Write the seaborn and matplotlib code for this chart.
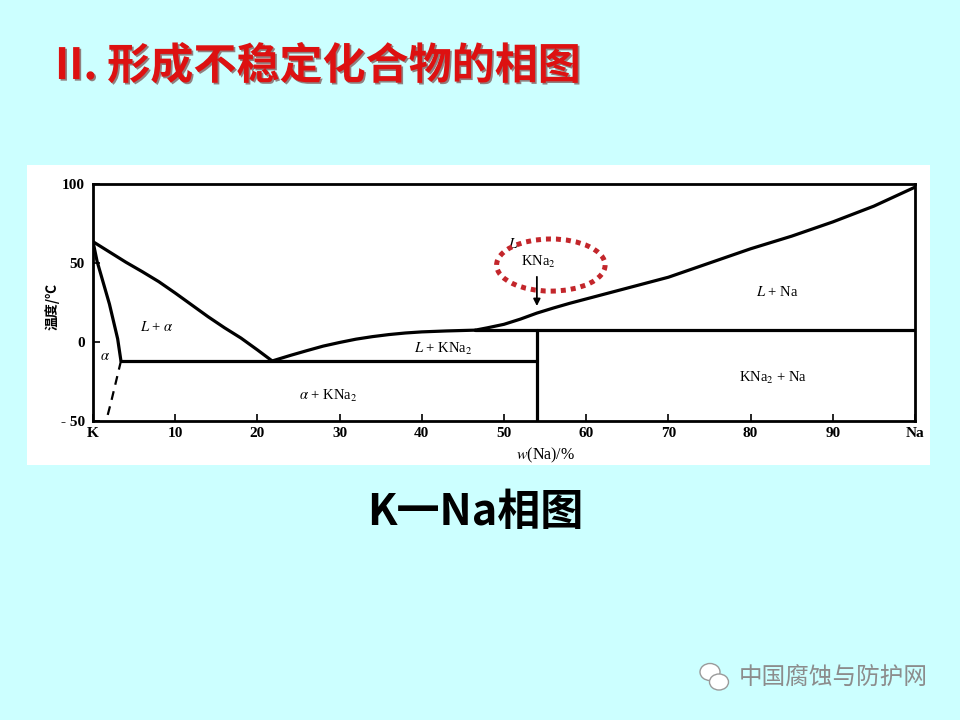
import matplotlib
matplotlib.use("Agg")
import matplotlib.pyplot as plt
import matplotlib.patheffects as pe
from matplotlib.patches import Ellipse, Rectangle
import seaborn as sns

# --- data (w(Na) in %, T in degC) ---
liq_alpha_x = [0, 2, 4, 6, 8, 10, 12, 14, 16, 18, 20, 21.8]
liq_alpha_t = [63.5, 57, 50.5, 44.5, 38.2, 31, 23.5, 16, 9, 2.5, -5, -12]

sol_alpha_x = [0, 0.5, 1.0, 1.5, 2.0, 2.5, 3.0, 3.4]
sol_alpha_t = [63.5, 51, 42, 33, 24, 13, 2, -12]

solvus_x = [3.4, 2.8, 2.2, 1.6]
solvus_t = [-12, -25, -38, -50]

eutectic_x = [3.4, 54]
eutectic_t = [-12, -12]

liq_kna2_x = [21.8, 24, 26, 28, 30, 32, 34, 36, 38, 40, 43, 46.5]
liq_kna2_t = [-12, -8.5, -5.5, -2.6, -0.3, 1.8, 3.4, 4.7, 5.7, 6.4, 7.0, 7.5]

peritectic_x = [46.5, 100]
peritectic_t = [7.5, 7.5]

kna2_x = [54, 54]
kna2_t = [7.5, -50]

liq_na_x = [46.5, 48, 50, 52, 54, 56, 58, 62, 66, 70, 75, 80, 85, 90, 95, 100]
liq_na_t = [7.5, 9, 11.2, 14.5, 18.3, 21.5, 24.5, 30, 35.5, 41, 50, 59, 67, 76, 86, 98]

x_ticks = [0, 10, 20, 30, 40, 50, 60, 70, 80, 90, 100]
x_labels = ["K", "10", "20", "30", "40", "50", "60", "70", "80", "90", "Na"]
y_ticks = [-50, 0, 50, 100]
y_labels = ["- 50", "0", "50", "100"]

region_labels = ["$L$ + $\\alpha$", "$\\alpha$", "$\\alpha$ + KNa$_2$", "$L$ + KNa$_2$",
                 "$L$ + Na", "KNa$_2$ + Na", "$L$", "KNa$_2$"]
region_x = [7.8, 1.5, 28.6, 42.6, 83.3, 82.7, 51.1, 54.2]
region_t = [9.5, -9, -34, -4.5, 31.5, -23, 62, 50.5]

sns.set_theme(style="white")
plt.rcParams['font.family'] = ['Noto Sans CJK SC', 'DejaVu Sans']
plt.rcParams['mathtext.fontset'] = 'stix'
serif = ['Liberation Serif', 'Noto Sans CJK SC']

bg = '#ccffff'
fig = plt.figure(figsize=(9.6, 7.2), dpi=100, facecolor=bg)

# white panel behind the diagram
fig.add_artist(Rectangle((27 / 960, 1 - 465 / 720), 903 / 960, 300 / 720,
                         transform=fig.transFigure, facecolor='white',
                         edgecolor='none', zorder=-1))

ax = fig.add_axes([93 / 960, 1 - 421 / 720, 822 / 960, 237 / 720])
ax.set_facecolor('white')

curves = [(liq_alpha_x, liq_alpha_t), (sol_alpha_x, sol_alpha_t),
          (eutectic_x, eutectic_t), (liq_kna2_x, liq_kna2_t),
          (peritectic_x, peritectic_t), (kna2_x, kna2_t), (liq_na_x, liq_na_t)]
for cx, ct in curves:
    sns.lineplot(x=cx, y=ct, ax=ax, color='black', lw=2.3,
                 estimator=None, sort=False)
sns.lineplot(x=solvus_x, y=solvus_t, ax=ax, color='black', lw=1.6,
             estimator=None, sort=False, linestyle=(0, (4, 3)))

ax.set_xlim(0, 100)
ax.set_ylim(-50, 100)
for s in ax.spines.values():
    s.set_color('black')
    s.set_linewidth(2)
ax.set_xticks(x_ticks)
ax.set_xticklabels(x_labels)
ax.set_yticks(y_ticks)
ax.set_yticklabels(y_labels)
ax.tick_params(direction='in', length=5, width=1.2, colors='black',
               labelsize=11, bottom=True, left=True)
ax.tick_params(axis='x', pad=4)
ax.tick_params(axis='y', pad=6)
for lab in ax.get_xticklabels() + ax.get_yticklabels():
    lab.set_family(serif)
    lab.set_fontweight('bold')
ax.set_xlabel("")
ax.set_ylabel("")

for txt, tx, tt in zip(region_labels, region_x, region_t):
    ax.text(tx, tt, txt, ha='center', va='center', fontsize=10.5,
            family=serif, color='black')

# arrow pointing to the incongruent melting point of KNa2
ax.annotate("", xy=(54, 21), xytext=(54, 43),
            arrowprops=dict(arrowstyle='-|>', color='black', lw=1.3,
                            mutation_scale=10))

# red dotted highlight
ax.add_patch(Ellipse((55.7, 48.7), 13.2, 33, fill=False, edgecolor='#c3262b',
                     lw=3.6, linestyle=(0, (1, 1)), zorder=5))

ax.text(0.55, -0.145, "$w$(Na)/%", transform=ax.transAxes, ha='center',
        va='center', fontsize=11.5, family=serif, color='black')
fig.text(52 / 960, 1 - 307 / 720, "温度/℃", rotation=90, ha='center',
         va='center', fontsize=10, fontweight='bold', color='black')

# slide title, caption and watermark
fig.text(55 / 960, 1 - 66 / 720, "II. 形成不稳定化合物的相图", ha='left',
         va='center', fontsize=31, fontweight='bold', color='#dd1111',
         path_effects=[pe.withSimplePatchShadow(offset=(1.2, -1.2),
                                                shadow_rgbFace='#550000',
                                                alpha=0.5)])
fig.text(475 / 960, 1 - 512 / 720, "K一Na相图", ha='center', va='center',
         fontsize=31, fontweight='bold', color='black')
fig.text(833 / 960, 1 - 678 / 720, "中国腐蚀与防护网", ha='center', va='center',
         fontsize=17, color='#8c8c8c')
fig.add_artist(Ellipse((710 / 960, 1 - 672 / 720), 20 / 960, 17 / 720,
                       transform=fig.transFigure, fill=True, facecolor='white',
                       edgecolor='#9a9a9a', lw=1))
fig.add_artist(Ellipse((719 / 960, 1 - 682 / 720), 19 / 960, 16 / 720,
                       transform=fig.transFigure, fill=True, facecolor='white',
                       edgecolor='#9a9a9a', lw=1))

fig.savefig("out.png", dpi=100, facecolor=bg)
